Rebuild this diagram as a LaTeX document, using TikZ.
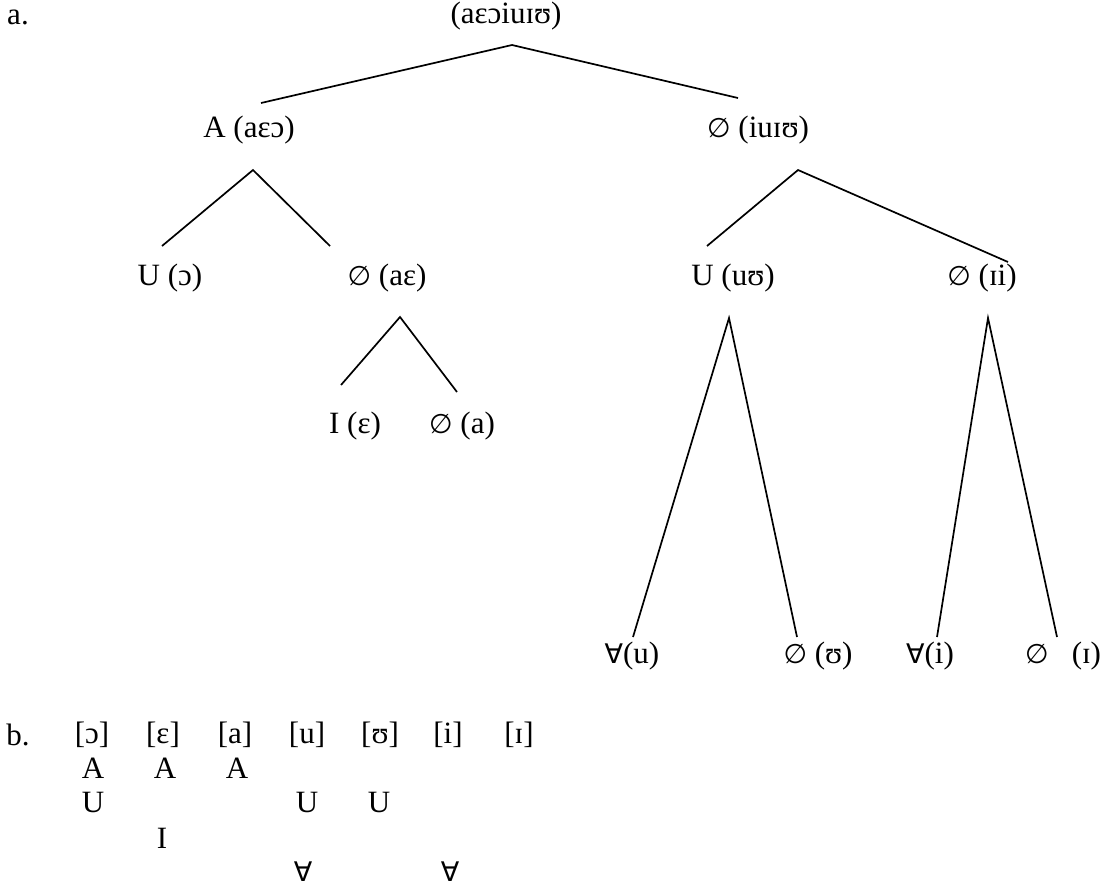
\documentclass[tikz,border=0pt]{standalone}
\usepackage{fontspec}
\setmainfont{Liberation Serif}
\newfontfamily\symfont{DejaVu Sans}
% null and universal-quantifier symbols
\newcommand{\nul}{{\symfont\fontsize{13.5}{16}\selectfont ∅}}
\newcommand{\uq}{{\symfont\fontsize{13.5}{16}\selectfont ∀}}
\begin{document}
\begin{tikzpicture}[x=0.5pt,y=-0.5pt,
  tx/.style={inner sep=0pt, font=\fontsize{15.5}{18}\selectfont},
  branch/.style={line width=0.85pt}]
\useasboundingbox (0,0) rectangle (1106,890);

% ---- a. tree ----
\node[tx] (lbla) at (18,17) {a.};
\node[tx] (root) at (506,16) {(aɛɔiuɪʊ)};
\node[tx] (nA) at (249,130) {A (aɛɔ)};
\node[tx] (nZ) at (758,130) {\nul{} (iuɪʊ)};
\node[tx] (nUo) at (170,278) {U (ɔ)};
\node[tx] (nZae) at (387,278) {\nul{} (aɛ)};
\node[tx] (nUu) at (733,278) {U (uʊ)};
\node[tx] (nZi) at (982,278) {\nul{} (ɪi)};
\node[tx] (nIe) at (355,426) {I (ɛ)};
\node[tx] (nZa) at (462,426) {\nul{} (a)};
\node[tx] (nVu) at (632,656) {\uq(u)};
\node[tx] (nZU) at (818,656) {\nul{} (ʊ)};
\node[tx] (nVi) at (930,656) {\uq(i)};
\node[tx] (nZI) at (1063,656) {\nul{}\hspace{0.5em} (ɪ)};

% branch junctions
\coordinate (jroot) at (512,45);
\coordinate (jrootL) at (261,103);
\coordinate (jrootR) at (738,98);
\coordinate (jA) at (253,170);
\coordinate (jAL) at (162,246);
\coordinate (jAR) at (330,246);
\coordinate (jZ) at (798,170);
\coordinate (jZL) at (707,246);
\coordinate (jZR) at (1008,262);
\coordinate (jZae) at (400,317);
\coordinate (jZaeL) at (341,385);
\coordinate (jZaeR) at (457,392);
\coordinate (jUu) at (729,318);
\coordinate (jUuL) at (633,637);
\coordinate (jUuR) at (797,637);
\coordinate (jZi) at (988,318);
\coordinate (jZiL) at (937,637);
\coordinate (jZiR) at (1057,637);

\draw[branch] (jrootL) -- (jroot) -- (jrootR);
\draw[branch] (jAL) -- (jA) -- (jAR);
\draw[branch] (jZL) -- (jZ) -- (jZR);
\draw[branch] (jZaeL) -- (jZae) -- (jZaeR);
\draw[branch] (jUuL) -- (jUu) -- (jUuR);
\draw[branch] (jZiL) -- (jZi) -- (jZiR);

% ---- b. table ----
\node[tx] (lblb) at (18,735) {b.};
\node[tx] (c1) at (92,735) {[ɔ]};
\node[tx] (c2) at (163,735) {[ɛ]};
\node[tx] (c3) at (235,735) {[a]};
\node[tx] (c4) at (307,735) {[u]};
\node[tx] (c5) at (380,735) {[ʊ]};
\node[tx] (c6) at (448,735) {[i]};
\node[tx] (c7) at (519,735) {[ɪ]};
\node[tx] (a1) at (93,768) {A};
\node[tx] (a2) at (165,768) {A};
\node[tx] (a3) at (237,768) {A};
\node[tx] (u1) at (93,802) {U};
\node[tx] (u4) at (307,802) {U};
\node[tx] (u5) at (379,802) {U};
\node[tx] (i2) at (162,838) {I};
\node[tx] (v4) at (303,872) {\uq};
\node[tx] (v6) at (450,872) {\uq};
\end{tikzpicture}
\end{document}
